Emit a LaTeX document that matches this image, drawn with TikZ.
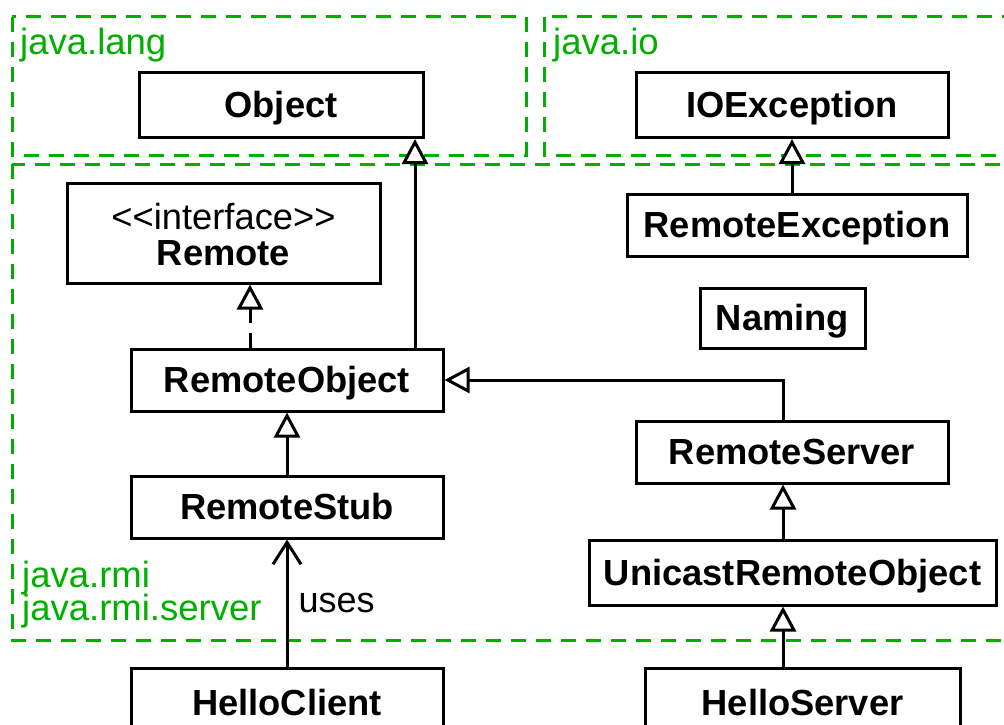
\documentclass[tikz,border=0pt]{standalone}
\usepackage{fontspec}
\setmainfont{Liberation Sans}
\usetikzlibrary{arrows.meta}
\definecolor{pkggreen}{RGB}{0,175,0}

\begin{document}
\begin{tikzpicture}[x=1pt,y=-1pt,
  cls/.style={draw,line width=3pt,minimum width=312pt,minimum height=62pt,inner sep=0pt,align=center,text height=25pt,text depth=0pt,font=\fontsize{36.3}{36}\selectfont\bfseries},
  pkg/.style={draw=pkggreen,line width=3pt,dash pattern=on 15pt off 10pt},
  pkglabel/.style={anchor=base west,inner sep=0pt,text=pkggreen,font=\fontsize{36.5}{36}\selectfont},
  gen/.style={line width=3pt,-{Triangle[length=25pt,width=26pt,fill=white]}},
  real/.style={gen,dash pattern=on 15pt off 10pt},
  dep/.style={line width=3pt,-{Straight Barb[length=22pt,width=28pt]}}]
\useasboundingbox (0,0) rectangle (1004,725);
\draw[pkg] (12,17) rectangle (526,155);
\draw[pkg] (544,17) rectangle (1030,155);
\draw[pkg] (12,164) rectangle (1030,640);
\node[pkglabel] (langlbl) at (20,55) {java.lang};
\node[pkglabel] (iolbl) at (553,55) {java.io};
\node[pkglabel] (rmilbl) at (22,587) {java.rmi};
\node[pkglabel] (srvlbl) at (22,620) {java.rmi.server};
\node[cls,minimum width=284pt,minimum height=65pt] (obj) at (281,105) {Object};
\node[cls,minimum height=65pt] (ioe) at (792,105) {IOException};
\node[cls,minimum width=313pt,minimum height=100pt,text height=64pt] (rem) at (223.5,233) {\mdseries<\kern0pt<interface>\kern0pt>\\Remote};
\node[cls,minimum width=340pt] (rex) at (797,225) {RemoteException};
\node[cls,minimum width=165pt,minimum height=60pt] (nam) at (782.5,318) {Naming};
\node[cls] (ro) at (287,380) {RemoteObject};
\node[cls] (rs) at (792,452) {RemoteServer};
\node[cls] (stub) at (287,507) {RemoteStub};
\node[cls,minimum width=407pt,minimum height=65pt] (uro) at (792.5,572.5) {UnicastRemoteObject};
\node[cls,minimum height=70pt] (hc) at (287,703) {HelloClient};
\node[cls,minimum width=315pt,minimum height=70pt] (hs) at (802.5,703) {HelloServer};
\coordinate (objline) at (415,0);
\coordinate (remline) at (250,0);
\coordinate (srvline) at (783,0);
\draw[gen] (ro.north -| objline) -- (obj.south -| objline);
\draw[real] (ro.north -| remline) -- (rem.south -| remline);
\draw[gen] (stub) -- (ro);
\draw[gen] (rex.north -| ioe) -- (ioe.south);
\draw[gen] (rs.north -| srvline) |- (ro.east);
\draw[gen] (uro.north -| srvline) -- (rs.south -| srvline);
\draw[gen] (hs.north -| srvline) -- (uro.south -| srvline);
\draw[dep] (hc) -- node[right,inner sep=10pt,font=\fontsize{36}{36}\selectfont]{uses} (stub);
\end{tikzpicture}
\end{document}
